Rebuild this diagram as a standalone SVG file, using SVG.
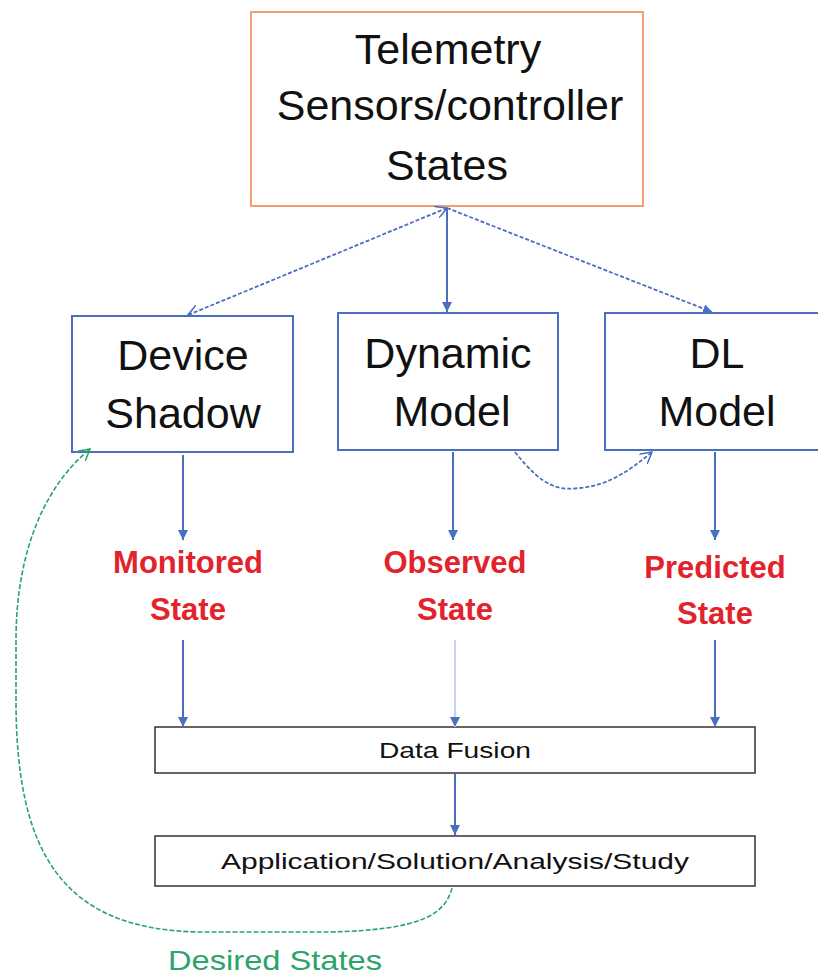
<svg xmlns="http://www.w3.org/2000/svg" width="818" height="975" viewBox="0 0 818 975">
<style>
  .big { font-family: "Liberation Sans", Arial, sans-serif; font-size: 43px; fill: #111; text-anchor: middle; }
  .red { font-family: "Liberation Sans", Arial, sans-serif; font-size: 31px; font-weight: bold; fill: #E3232B; text-anchor: middle; }
  .small { font-family: "Liberation Sans", Arial, sans-serif; font-size: 22px; fill: #111; text-anchor: middle; }
  .green { font-family: "Liberation Sans", Arial, sans-serif; font-size: 28px; fill: #2BA36B; text-anchor: middle; }
  .bluebox { fill: #fff; stroke: #4A6FBF; stroke-width: 2; }
  .plain { fill: #fff; stroke: #333; stroke-width: 1.5; }
  .con { fill: none; stroke: #4A6FBF; stroke-width: 2; }
  .dash { fill: none; stroke: #4A6FBF; stroke-width: 1.8; stroke-dasharray: 4 2; }
</style>
<defs>
  <marker id="fill" viewBox="0 0 10 10" refX="10" refY="5" markerWidth="5" markerHeight="5" orient="auto" markerUnits="strokeWidth">
    <path d="M0,0 L10,5 L0,10 z" fill="#4A6FBF"/>
  </marker>
  <marker id="open" viewBox="0 0 10 10" refX="9" refY="5" markerWidth="7" markerHeight="7" orient="auto-start-reverse" markerUnits="strokeWidth">
    <path d="M0,0 L9,5 L0,10" fill="none" stroke="#4A6FBF" stroke-width="1.2"/>
  </marker>
  <marker id="openg" viewBox="0 0 10 10" refX="9" refY="5" markerWidth="8" markerHeight="8" orient="auto" markerUnits="strokeWidth">
    <path d="M0,0 L9,5 L0,10" fill="none" stroke="#2BA36B" stroke-width="1.2"/>
  </marker>
</defs>
<rect width="818" height="975" fill="#fff"/>

<g id="telemetry">
  <rect x="251" y="12" width="392" height="194" fill="#fff" stroke="#F0A070" stroke-width="2"/>
  <text class="big" x="448" y="64">Telemetry</text>
  <text class="big" x="450" y="120">Sensors/controller</text>
  <text class="big" x="447" y="180">States</text>
</g>

<g id="device-shadow">
  <rect class="bluebox" x="72" y="316" width="221" height="136"/>
  <text class="big" x="183" y="370">Device</text>
  <text class="big" x="183" y="428">Shadow</text>
</g>

<g id="dynamic-model">
  <rect class="bluebox" x="338" y="313" width="220" height="137"/>
  <text class="big" x="448" y="368">Dynamic</text>
  <text class="big" x="452" y="426">Model</text>
</g>

<g id="dl-model">
  <rect class="bluebox" x="605" y="313" width="222" height="137"/>
  <text class="big" x="717" y="368">DL</text>
  <text class="big" x="717" y="426">Model</text>
</g>

<g id="monitored-state">
  <text class="red" x="188" y="573">Monitored</text>
  <text class="red" x="188" y="620">State</text>
</g>
<g id="observed-state">
  <text class="red" x="455" y="573">Observed</text>
  <text class="red" x="455" y="620">State</text>
</g>
<g id="predicted-state">
  <text class="red" x="715" y="578">Predicted</text>
  <text class="red" x="715" y="624">State</text>
</g>

<g id="data-fusion">
  <rect class="plain" x="155" y="727" width="600" height="46"/>
  <text class="small" x="455" y="758" textLength="152" lengthAdjust="spacingAndGlyphs">Data Fusion</text>
</g>

<g id="application">
  <rect class="plain" x="155" y="836" width="600" height="50"/>
  <text class="small" x="455" y="869" textLength="468" lengthAdjust="spacingAndGlyphs">Application/Solution/Analysis/Study</text>
</g>

<g id="connectors">
  <path class="dash" d="M447,208 L188,315" marker-start="url(#open)" marker-end="url(#open)"/>
  <path class="con" d="M447,208 L447,312" marker-end="url(#fill)"/>
  <path class="dash" d="M447,208 L712,312" marker-end="url(#fill)"/>
  <path class="dash" d="M515,452 C545,490 560,490 580,488 C610,485 630,470 652,452" marker-end="url(#open)"/>
  <path class="con" d="M183,455 L183,540" marker-end="url(#fill)"/>
  <path class="con" d="M453,452 L453,540" marker-end="url(#fill)"/>
  <path class="con" d="M715,452 L715,540" marker-end="url(#fill)"/>
  <path class="con" d="M183,640 L183,727" marker-end="url(#fill)"/>
  <path class="con" d="M455,640 L455,727" marker-end="url(#fill)" style="stroke:#C8D2E8"/>
  <path class="con" d="M715,640 L715,727" marker-end="url(#fill)"/>
  <path class="con" d="M455,774 L455,835" marker-end="url(#fill)"/>
  <path d="M452,888 C445,915 420,930 330,932 L200,932 C60,930 16,850 16,700 L16,640 C16,560 40,490 90,449" fill="none" stroke="#2BA36B" stroke-width="1.6" stroke-dasharray="5 2" marker-end="url(#openg)"/>
</g>

<text class="green" x="275" y="970" textLength="214" lengthAdjust="spacingAndGlyphs">Desired States</text>
</svg>
